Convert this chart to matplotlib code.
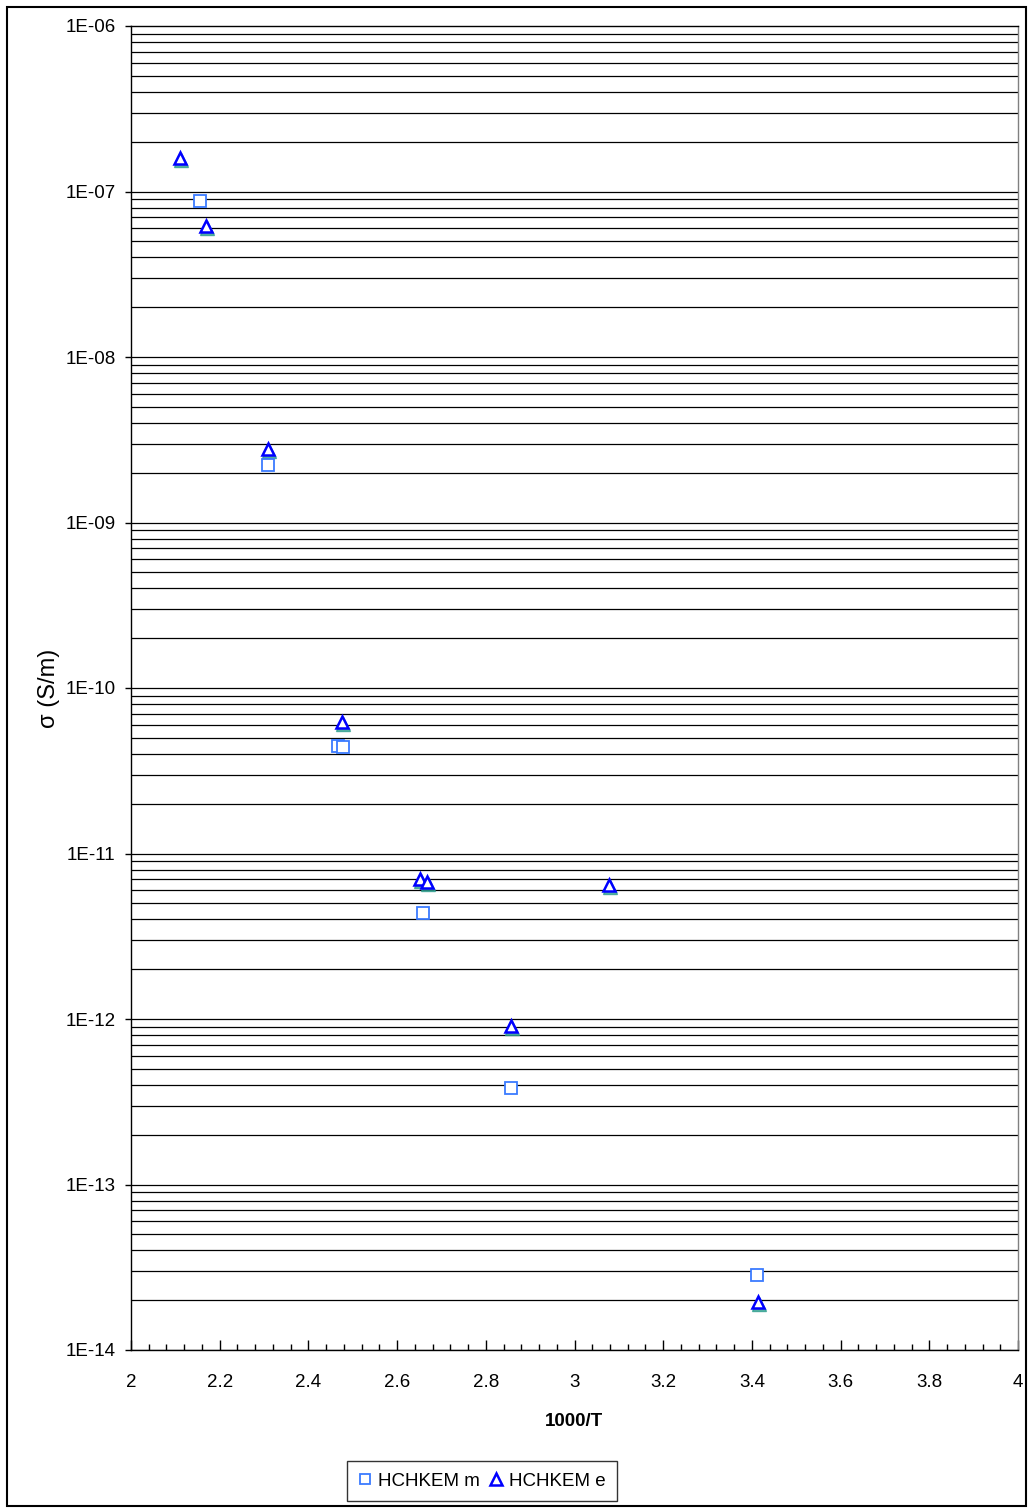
import numpy as np
from matplotlib import pyplot as plt
from matplotlib.patches import Rectangle
from matplotlib.ticker import FixedLocator, FuncFormatter, MultipleLocator

plt.rcParams['font.family'] = ['Liberation Sans', 'DejaVu Sans']

# HCHKEM m (open squares)
m_x = [2.156, 2.309, 2.467, 2.478, 2.658, 2.857, 3.411]
m_sigma = [8.77e-8, 2.22e-9, 4.46e-11, 4.40e-11, 4.37e-12, 3.83e-13, 2.84e-14]

# HCHKEM e (open triangles)
e_x = [2.110, 2.169, 2.309, 2.476, 2.652, 2.667, 3.078, 2.857, 3.414]
e_sigma = [1.59e-7, 6.19e-8, 2.78e-9, 6.23e-11, 7.01e-12, 6.73e-12, 6.45e-12, 9.07e-13, 1.95e-14]

# hidden series drawn behind the triangles (green, not in legend)
g_x = [2.112, 2.171, 2.311, 2.478, 2.654, 2.669, 3.080, 2.859, 3.416]
g_sigma = [1.55e-7, 6.0e-8, 2.7e-9, 6.05e-11, 6.8e-12, 6.55e-12, 6.3e-12, 8.85e-13, 1.9e-14]

x_ticks = [2, 2.2, 2.4, 2.6, 2.8, 3, 3.2, 3.4, 3.6, 3.8, 4]
x_tick_labels = ['2', '2.2', '2.4', '2.6', '2.8', '3', '3.2', '3.4', '3.6', '3.8', '4']
decades = np.arange(-14, -5)

fig = plt.figure(figsize=(10.29, 15.08), dpi=100)
ax = fig.add_axes([131 / 1029, 1 - 1350 / 1508, (1018 - 131) / 1029, (1350 - 26) / 1508])

ax.set_yscale('log')
ax.set_xlim(2, 4)
ax.set_ylim(1e-14, 1e-6)

# horizontal grid at every major and minor log position
grid_vals = []
for d in decades[:-1]:
    for k in range(1, 10):
        grid_vals.append(k * 10.0 ** d)
for v in grid_vals:
    ax.axhline(v, color='black', lw=0.9, zorder=1)

ax.plot(g_x, g_sigma, ls='none', marker='^', ms=10.5, mfc='#2f9f8f', mec='#2f9f8f',
        alpha=0.8, zorder=2)
ax.plot(m_x, m_sigma, ls='none', marker='s', ms=8.5, mfc='white', mec='#3a7bff',
        mew=1.3, zorder=3, label='HCHKEM m')
ax.plot(e_x, e_sigma, ls='none', marker='^', ms=9, mfc='white', mec='#0000ff',
        mew=1.8, zorder=4, label='HCHKEM e')

ax.yaxis.set_major_locator(FixedLocator([10.0 ** d for d in decades]))
ax.yaxis.set_minor_locator(FixedLocator([]))
ax.yaxis.set_major_formatter(FuncFormatter(lambda v, p: '1E%03d' % int(round(np.log10(v)))))
ax.tick_params(axis='y', which='major', direction='out', length=4, width=1, pad=7, labelsize=13.5)

ax.set_xticks(x_ticks)
ax.set_xticklabels(x_tick_labels)
ax.xaxis.set_minor_locator(MultipleLocator(0.04))
ax.tick_params(axis='x', which='major', direction='in', length=7, width=1, pad=17, labelsize=13.5)
ax.tick_params(axis='x', which='minor', direction='in', length=4, width=1)

for s in ax.spines.values():
    s.set_linewidth(1.0)
ax.spines['right'].set_color('#808080')

ax.set_xlabel('1000/T', fontsize=13.5, fontweight='bold', labelpad=16)
ax.set_ylabel('σ (S/m)', fontsize=17, labelpad=4)

leg = fig.legend(loc='center', bbox_to_anchor=(482 / 1029, 1 - 1481 / 1508), ncol=2,
                 fontsize=13.5, frameon=True, fancybox=False, edgecolor='black',
                 handlelength=0.7, handletextpad=0.35, columnspacing=0.5,
                 borderpad=0.6, markerscale=0.9)
leg.get_frame().set_linewidth(1.0)

fig.patches.append(Rectangle((7 / 1029, 2 / 1508), 1019 / 1029, 1499 / 1508,
                             transform=fig.transFigure, fill=False,
                             edgecolor='black', lw=1.5))

fig.savefig('out.png', dpi=100)
